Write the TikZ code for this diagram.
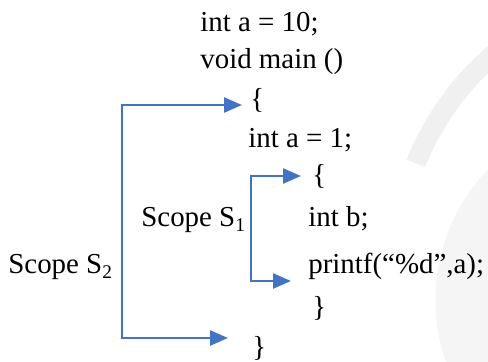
\documentclass[tikz,border=0pt]{standalone}
\usepackage{fontspec}
\setmainfont{Liberation Serif}
\usepackage{tikz}
\usetikzlibrary{arrows.meta}
\definecolor{scopeblue}{RGB}{68,114,196}
\newcommand{\sbs}[1]{\raisebox{-0.12cm}{\fontsize{11pt}{12pt}\selectfont #1}}
\tikzset{code/.style = {anchor=base west, inner sep=0, font=\fontsize{16.45pt}{20pt}\selectfont}}
\tikzset{brk/.style = {draw=scopeblue, line width=0.05cm,
                       {Triangle[length=0.36cm, width=0.3cm]}-{Triangle[length=0.36cm, width=0.3cm]}}}
\tikzset{mark bg/.style = {fill=black!4, draw=none}}

\begin{document}
\begin{tikzpicture}[x=0.02cm, y=-0.02cm]
    \useasboundingbox (0, 0) rectangle (488, 362);
    \begin{scope}
      \clip (0, 0) rectangle (488, 362);
      \fill [mark bg] (624, 300) circle [radius=188.5];
      \fill [mark bg, fill=black!6] (680, 270) ++(202:295) arc [start angle=202, end angle=240, radius=295]
            -- ++(60:20) arc [start angle=240, end angle=202, radius=275] -- cycle;
    \end{scope}

    \node [code] (l1) at (200, 31) {int a = 10;};
    \node [code] (l2) at (200, 68) {void main ()};
    \node [code] (ob1) at (250, 108) {\{};
    \node [code] (l3) at (248, 147) {int a = 1;};
    \node [code] (ob2) at (312, 184) {\{};
    \node [code] (l4) at (308, 226) {int b;};
    \node [code] (l5) at (308, 273) {printf(“\%d”,a);};
    \node [code] (cb2) at (312, 316) {\}};
    \node [code] (cb1) at (252, 356) {\}};

    \node [code] (s1) at (141, 226) {Scope S\sbs{1}};
    \node [code] (s2) at (8, 273) {Scope S\sbs{2}};

    \coordinate (s2a) at (242, 105);
    \coordinate (s2b) at (228, 338);
    \coordinate (s1a) at (301, 176);
    \coordinate (s1b) at (291, 281);

    \draw [brk] (s2a) -| (122, 338) -- (s2b);
    \draw [brk] (s1a) -| (251, 281) -- (s1b);
  \end{tikzpicture}
\end{document}
